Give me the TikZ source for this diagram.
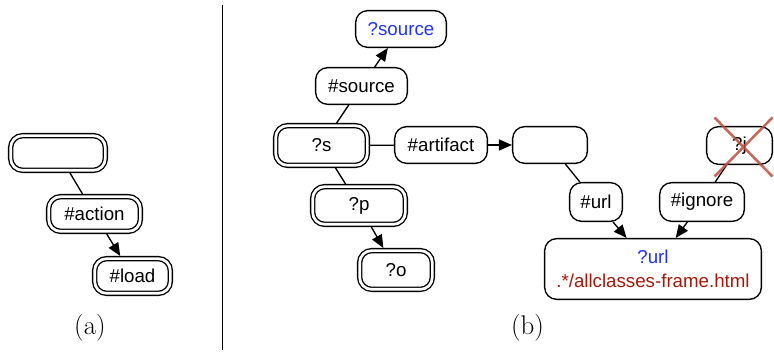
\documentclass[tikz,border=0pt]{standalone}
\usepackage{fontspec}
\setsansfont{Liberation Sans}
\usetikzlibrary{arrows.meta,calc}
\definecolor{qblue}{RGB}{30,50,255}
\definecolor{qred}{RGB}{165,25,10}
\definecolor{xred}{RGB}{185,80,65}
\tikzset{
  box/.style={draw, rounded corners=12pt, line width=1.35pt, inner sep=0pt,
    font=\sffamily\fontsize{18.7}{24}\selectfont, align=center},
  dbox/.style={box, double, double distance=2.7pt, outer sep=2.65pt},
  conn/.style={line width=1.35pt},
  arr/.style={conn, -{Triangle[length=13pt,width=11pt]}},
  captext/.style={font=\fontsize{27}{32}\selectfont, inner sep=0pt}
}
\begin{document}
\begin{tikzpicture}[x=1pt,y=-1pt]
\useasboundingbox (0,0) rectangle (774,352);
% panel (a)
\node[dbox, minimum width=94.7pt, minimum height=34.7pt] (atop) at (58,153) {};
\node[dbox, minimum width=91.7pt, minimum height=34.7pt] (action) at (94.5,214) {\#action};
\node[dbox, minimum width=75.7pt, minimum height=34.7pt] (load) at (132.5,276) {\#load};
\draw[conn] (atop) -- (action);
\draw[arr] (action) -- (load);
\node[captext] (capa) at (90,328) {(a)};
% separator
\coordinate (septop) at (222,5);
\coordinate (sepbot) at (222,350);
\draw[line width=1pt] (septop) -- (sepbot);
% panel (b)
\node[box, minimum width=90.7pt, minimum height=36.7pt, text=qblue] (qsource) at (401,29) {?source};
\node[box, minimum width=91.7pt, minimum height=36.7pt] (hsource) at (361.5,86) {\#source};
\node[dbox, minimum width=91.7pt, minimum height=39.7pt] (s) at (321.5,145.5) {?s};
\node[box, minimum width=92.7pt, minimum height=36.7pt] (artifact) at (441,145) {\#artifact};
\node[dbox, minimum width=92.7pt, minimum height=37.7pt] (p) at (359,205.5) {?p};
\node[dbox, minimum width=72.7pt, minimum height=38.7pt] (o) at (396,270) {?o};
\node[box, minimum width=74.7pt, minimum height=36.7pt] (empty) at (550,145) {};
\node[box, minimum width=52.7pt, minimum height=38.7pt] (url) at (596,202) {\#url};
\node[box, minimum width=84.7pt, minimum height=38.7pt] (ignore) at (702,202) {\#ignore};
\node[box, minimum width=65.7pt, minimum height=37.7pt] (j) at (739.5,145.5) {?j};
\node[box, minimum width=216.7pt, minimum height=60.7pt] (qurl) at (653,269)
  {\textcolor{qblue}{?url}\\\textcolor{qred}{.*/allclasses-frame.html}};
\draw[conn] (s) -- (hsource);
\draw[arr] (hsource) -- (qsource);
\draw[conn] (s) -- (artifact);
\draw[arr] (artifact) -- (empty);
\draw[conn] (s) -- (p);
\draw[arr] (p) -- (o);
\draw[conn] (empty) -- (url);
\draw[arr] (url) -- (qurl);
\draw[conn] (j) -- (ignore);
\draw[arr] (ignore) -- (qurl);
% cross over ?j
\draw[xred, line width=2.6pt, opacity=0.85]
  ($(j.center)+(-25,-28)$) -- ($(j.center)+(33,31)$)
  ($(j.center)+(33,-28)$) -- ($(j.center)+(-25,31)$);
\node[captext] (capb) at (527.5,328) {(b)};
\end{tikzpicture}
\end{document}
